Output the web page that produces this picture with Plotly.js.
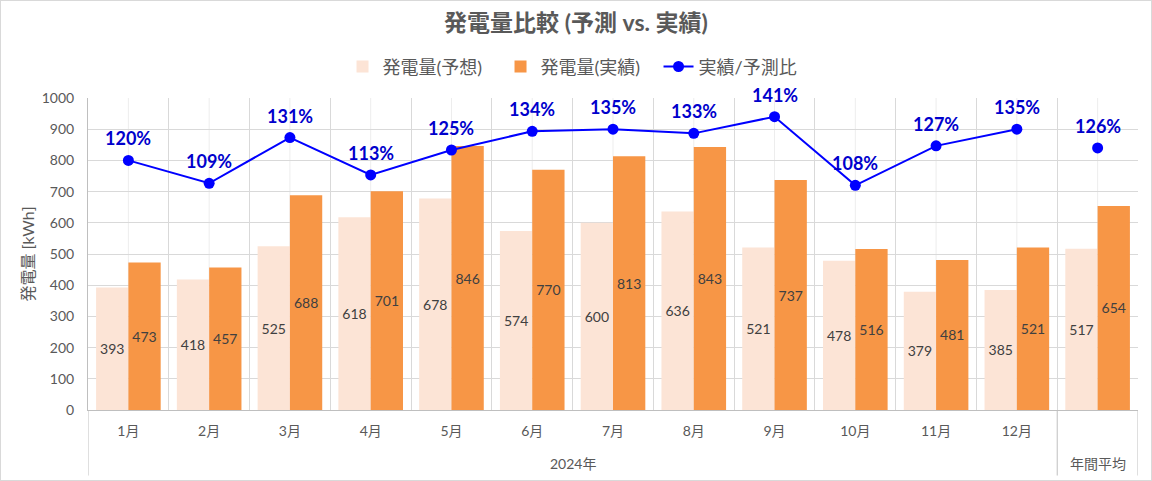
<!DOCTYPE html>
<html>
<head>
<meta charset="utf-8">
<script src="https://cdn.plot.ly/plotly-3.0.1.min.js"></script>
<style>
  html, body { margin: 0; padding: 0; background: #fff; }
  #wrap { position: relative; width: 1152px; height: 481px; }
  #chart { width: 1152px; height: 481px; }
  #frame { position: absolute; left: 0; top: 0; width: 1152px; height: 481px; box-sizing: border-box; border: 1px solid #D9D9D9; pointer-events: none; }
</style>
</head>
<body>
<div id="wrap"><div id="chart"></div><div id="frame"></div></div>
<script>
const chartTitle = "発電量比較 (予測 vs. 実績)";
const yTitle = "発電量 [kWh]";
const groupLabel = "2024年";
const avgLabel = "年間平均";
const months = ["1月","2月","3月","4月","5月","6月","7月","8月","9月","10月","11月","12月"];
const seriesNames = ["発電量(予想)", "発電量(実績)", "実績/予測比"];
const forecast = [393, 418, 525, 618, 678, 574, 600, 636, 521, 478, 379, 385];
const actual   = [473, 457, 688, 701, 846, 770, 813, 843, 737, 516, 481, 521];
const ratio    = [1.20, 1.09, 1.31, 1.13, 1.25, 1.34, 1.35, 1.33, 1.41, 1.08, 1.27, 1.35];
const forecastAvg = 517;
const actualAvg = 654;
const ratioAvg = 1.26;

const cats = months.concat([avgLabel]);
const tickText = months.concat([""]);

const FONT = 'Lato, "Noto Sans CJK JP", sans-serif';
const GREY = '#595959';
const pct = v => Math.round(v * 100) + '%';

const fVals = forecast.concat([forecastAvg]);
const aVals = actual.concat([actualAvg]);

const traces = [
  {
    type: 'bar', name: seriesNames[0],
    x: cats, y: fVals,
    marker: { color: '#FCE4D6' },
    text: fVals.map(String), textposition: 'inside', insidetextanchor: 'middle',
    textangle: 0, constraintext: 'none',
    insidetextfont: { family: FONT, size: 14, color: '#404040' },
    hoverinfo: 'skip'
  },
  {
    type: 'bar', name: seriesNames[1],
    x: cats, y: aVals,
    marker: { color: '#F79646' },
    text: aVals.map(String), textposition: 'inside', insidetextanchor: 'middle',
    textangle: 0, constraintext: 'none',
    insidetextfont: { family: FONT, size: 14, color: '#404040' },
    hoverinfo: 'skip'
  },
  {
    type: 'scatter', mode: 'lines+markers', name: seriesNames[2],
    x: months, y: ratio, yaxis: 'y2', cliponaxis: false,
    line: { color: '#0000FF', width: 2 },
    marker: { color: '#0000FF', size: 11 },
    hoverinfo: 'skip'
  },
  {
    type: 'scatter', mode: 'markers', name: seriesNames[2], showlegend: false,
    x: [avgLabel], y: [ratioAvg], yaxis: 'y2', cliponaxis: false,
    marker: { color: '#0000FF', size: 11 },
    hoverinfo: 'skip'
  }
];

const nCat = cats.length;
const shapes = [];
for (let i = 0; i < nCat; i++) {
  shapes.push({ type: 'line', xref: 'x', yref: 'paper', x0: i, x1: i, y0: 0, y1: 1,
    line: { color: '#EDEDED', width: 1 }, layer: 'below' });
}
// group dividers below axis
[-0.5, months.length - 0.5, nCat - 0.5].forEach(xv => {
  shapes.push({ type: 'line', xref: 'x', yref: 'paper', x0: xv, x1: xv, y0: 0, y1: -0.21,
    line: { color: '#BFBFBF', width: 1 }, layer: 'above' });
});

const annotations = [];
const ratioAll = ratio.concat([ratioAvg]);
ratioAll.forEach((r, i) => {
  annotations.push({ x: cats[i], y: r, xref: 'x', yref: 'y2', text: pct(r),
    showarrow: false, yshift: 22, yanchor: 'middle',
    font: { family: FONT, size: 18, color: '#0000CC', weight: 'bold' } });
});
annotations.push({ x: (months.length - 1) / 2, y: -0.17, xref: 'x', yref: 'paper', text: groupLabel,
  showarrow: false, yanchor: 'middle', font: { family: FONT, size: 14, color: GREY } });
annotations.push({ x: avgLabel, y: -0.17, xref: 'x', yref: 'paper', text: avgLabel,
  showarrow: false, yanchor: 'middle', font: { family: FONT, size: 14, color: GREY } });

const layout = {
  width: 1152, height: 481,
  margin: { l: 88, r: 14, t: 98, b: 71 },
  paper_bgcolor: '#fff', plot_bgcolor: '#fff',
  font: { family: FONT, color: GREY, size: 14 },
  title: { text: chartTitle, x: 0.5, xanchor: 'center', y: 0.953, yanchor: 'middle',
    font: { family: FONT, size: 23, color: GREY, weight: 'bold' } },
  showlegend: true,
  legend: { orientation: 'h', x: 0.2424, xanchor: 'left', y: 1.1, yanchor: 'middle',
    entrywidth: 113, entrywidthmode: 'pixels',
    font: { family: FONT, size: 18, color: GREY }, traceorder: 'normal' },
  barmode: 'group', bargap: 0.2, bargroupgap: 0,
  xaxis: {
    type: 'category', range: [-0.5, nCat - 0.5],
    tickmode: 'array', tickvals: cats, ticktext: tickText,
    tickson: 'boundaries',
    showgrid: true, gridcolor: '#D9D9D9',
    showline: true, linecolor: '#BFBFBF',
    ticks: '', ticklabelstandoff: 8,
    tickfont: { family: FONT, size: 14, color: GREY },
    fixedrange: true
  },
  yaxis: {
    range: [0, 1000], dtick: 100,
    showgrid: true, gridcolor: '#D9D9D9',
    showline: true, linecolor: '#BFBFBF',
    zeroline: false, ticks: '',
    ticklabelstandoff: 10,
    tickfont: { family: FONT, size: 14, color: GREY },
    title: { text: yTitle, font: { family: FONT, size: 16, color: GREY }, standoff: 3 }
  },
  yaxis2: {
    overlaying: 'y', side: 'right', range: [0, 1.5], visible: false, showgrid: false
  },
  shapes: shapes,
  annotations: annotations
};

Plotly.newPlot('chart', traces, layout, { displayModeBar: false, staticPlot: true });
</script>
</body>
</html>
